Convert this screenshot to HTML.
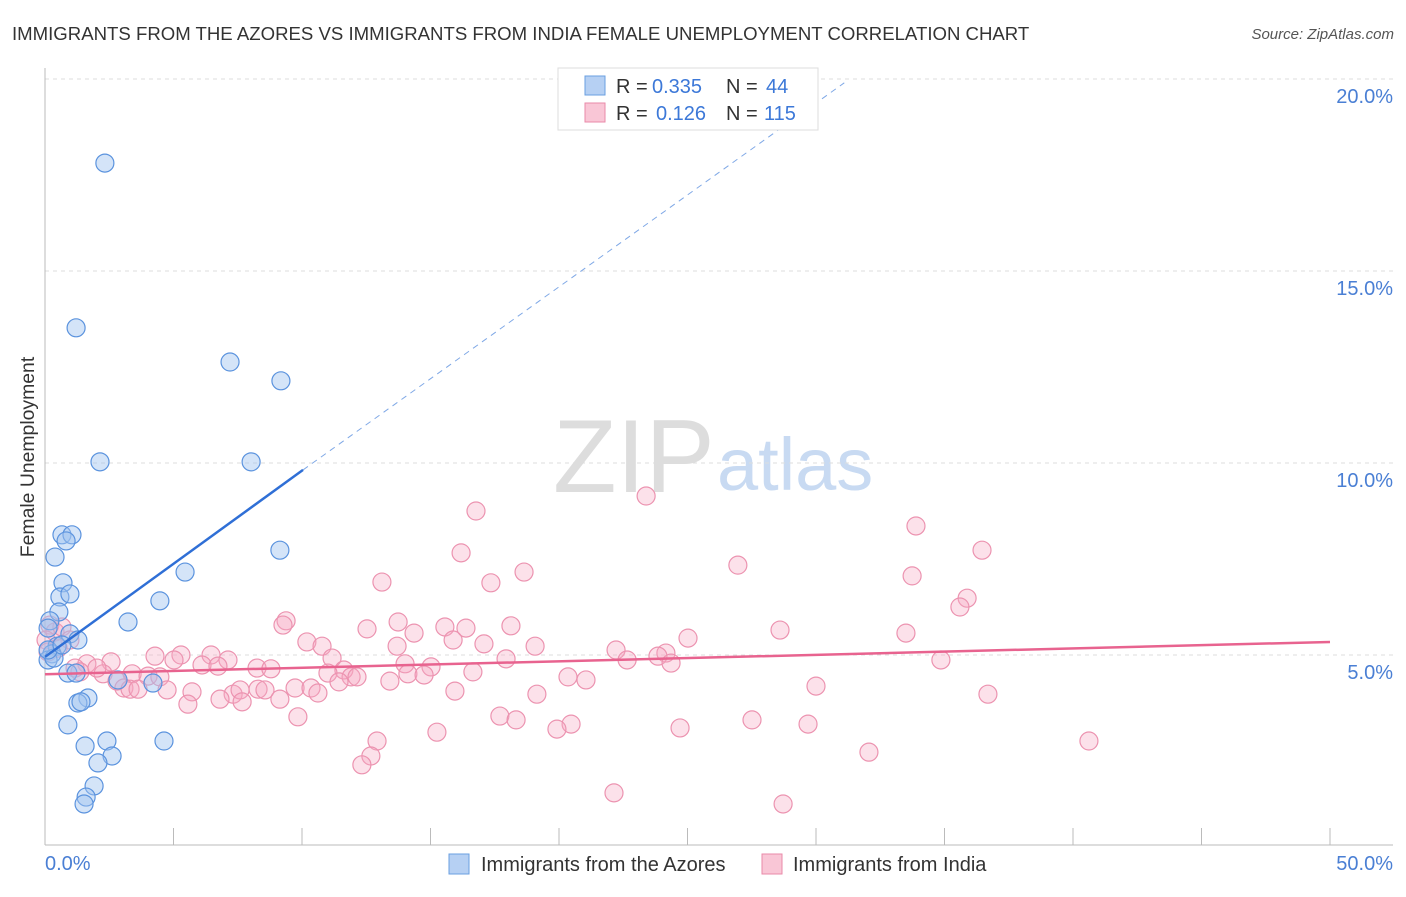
<!DOCTYPE html>
<html><head><meta charset="utf-8"><style>
body{margin:0;background:#fff;font-family:"Liberation Sans",sans-serif}
svg text{font-family:"Liberation Sans",sans-serif}
</style></head><body>
<svg id="chart" width="1406" height="892">
<text x="12" y="40" font-size="18.6" fill="#333">IMMIGRANTS FROM THE AZORES VS IMMIGRANTS FROM INDIA FEMALE UNEMPLOYMENT CORRELATION CHART</text>
<text x="1394" y="39" font-size="15" fill="#555" text-anchor="end" font-style="italic">Source: ZipAtlas.com</text>
<g>
<text x="553" y="492" font-size="104" fill="#ddd" font-family="Liberation Serif,serif">ZIP</text>
<text x="717" y="490" font-size="74" fill="#c8daf2">atlas</text>
</g>
<g id="grid"></g><g id="axes"></g><g id="marks"></g>
<text x="34" y="457" font-size="19.4" fill="#333" text-anchor="middle" transform="rotate(-90 34 457)">Female Unemployment</text>
<g>
<rect x="558" y="68" width="260" height="62" fill="#fff" stroke="#ddd"/>
<rect x="585" y="76" width="20" height="19" fill="#b6d0f3" stroke="#6a9fe0"/>
<text x="616" y="93" font-size="20" fill="#333">R =</text>
<text x="652" y="93" font-size="20" fill="#3c78d8">0.335</text>
<text x="726" y="93" font-size="20" fill="#333">N =</text>
<text x="766" y="93" font-size="20" fill="#3c78d8">44</text>
<rect x="585" y="103" width="20" height="19" fill="#f9c6d6" stroke="#e98aa8"/>
<text x="616" y="120" font-size="20" fill="#333">R =</text>
<text x="656" y="120" font-size="20" fill="#3c78d8">0.126</text>
<text x="726" y="120" font-size="20" fill="#333">N =</text>
<text x="764" y="120" font-size="20" fill="#3c78d8">115</text>
</g>
<g>
<rect x="449" y="854" width="20" height="20" fill="#b6d0f3" stroke="#6a9fe0"/>
<text x="481" y="871" font-size="20" fill="#333">Immigrants from the Azores</text>
<rect x="762" y="854" width="20" height="20" fill="#f9c6d6" stroke="#e98aa8"/>
<text x="793" y="871" font-size="20" fill="#333">Immigrants from India</text>
</g>
</svg>
<script>
const blueX=[2.33,1.21,7.20,9.18,2.14,8.02,0.66,1.05,0.82,9.14,0.39,5.45,0.70,0.58,0.97,4.47,0.54,3.23,0.19,0.12,0.97,1.28,0.47,0.27,0.12,0.35,0.89,1.21,2.84,4.20,1.67,1.28,1.40,0.89,1.56,2.41,4.63,2.61,2.06,1.91,1.60,1.52,0.12,0.66];
const blueY=[17.81,13.52,12.63,12.14,10.03,10.03,8.13,8.13,7.97,7.73,7.55,7.16,6.88,6.51,6.59,6.41,6.12,5.86,5.89,5.70,5.55,5.39,5.23,5.03,4.87,4.92,4.53,4.53,4.35,4.27,3.88,3.75,3.78,3.18,2.63,2.76,2.76,2.37,2.19,1.59,1.30,1.12,5.13,5.26];
const pinkX=[16.77,23.39,33.89,36.46,16.19,26.96,18.64,33.74,13.11,17.35,35.88,35.60,9.38,9.26,13.74,15.56,16.38,18.13,28.60,33.50,12.53,14.36,25.02,10.19,15.88,17.08,19.07,10.78,13.70,22.22,24.16,5.29,4.28,5.02,6.46,7.12,11.17,17.94,22.65,23.85,34.86,24.36,2.57,1.63,6.11,6.73,8.25,8.79,14.01,15.02,16.65,20.35,21.05,2.26,3.39,4.01,4.47,11.63,11.91,12.14,11.01,11.44,13.42,14.12,14.75,2.80,3.07,3.31,3.62,4.75,5.72,7.32,7.59,8.29,8.56,9.14,9.73,10.35,10.62,15.95,19.14,30.00,36.69,5.56,6.81,7.67,9.84,17.70,18.33,20.47,19.92,24.71,27.51,29.69,15.25,12.92,12.68,12.33,32.06,40.62,22.14,28.72,0.19,0.39,0.66,0.97,0.04,0.51,0.12,1.17,1.36,2.02];
const pinkY=[8.75,9.14,8.36,7.73,7.66,7.34,7.16,7.06,6.90,6.88,6.48,6.25,5.89,5.78,5.86,5.73,5.70,5.76,5.65,5.57,5.68,5.57,5.44,5.34,5.39,5.29,5.23,5.23,5.23,5.13,5.05,5.00,4.97,4.87,5.00,4.87,4.92,4.90,4.87,4.97,4.87,4.79,4.82,4.77,4.74,4.71,4.66,4.64,4.77,4.69,4.56,4.43,4.35,4.51,4.51,4.45,4.43,4.61,4.43,4.43,4.53,4.30,4.32,4.51,4.48,4.32,4.14,4.11,4.11,4.09,4.04,3.98,4.09,4.11,4.09,3.85,4.14,4.14,4.01,4.06,3.98,4.19,3.98,3.72,3.85,3.78,3.39,3.41,3.31,3.20,3.07,3.10,3.31,3.20,2.99,2.76,2.37,2.14,2.47,2.76,1.41,1.12,5.78,5.60,5.73,5.39,5.39,5.18,5.08,4.66,4.56,4.66];
const yTicks=[5,10,15,20];
const yTickLabels=["5.0%","10.0%","15.0%","20.0%"];
const blueTrend=[[0,4.95],[10.04,9.82],[31.1,19.9]];
const pinkTrend=[[0,4.5],[50,5.34]];
const NS="http://www.w3.org/2000/svg";
const sx=v=>45+v*25.7, sy=v=>847-v*38.4;
function mk(tag,attrs,parent){const e=document.createElementNS(NS,tag);for(const k in attrs)e.setAttribute(k,attrs[k]);parent.appendChild(e);return e;}
const grid=document.getElementById('grid'),axes=document.getElementById('axes'),marks=document.getElementById('marks');
yTicks.forEach((t,i)=>{
 const l=mk('line',{x1:45,x2:1393,y1:sy(t),y2:sy(t),stroke:'#ddd','stroke-dasharray':'4,4'},grid);
 
 
 const tx=mk('text',{x:1393,y:sy(t)+24,'font-size':20,fill:'#4a7fd4','text-anchor':'end'},axes);
 tx.textContent=yTickLabels[i];
 
 
});
const ya=mk('line',{x1:45,x2:45,y1:68,y2:845,stroke:'#bbb'},axes);


const xa=mk('line',{x1:45,x2:1393,y1:845,y2:845,stroke:'#bbb'},axes);


for(let i=0;i<=10;i++){const t=mk('line',{x1:sx(i*5),x2:sx(i*5),y1:828,y2:845,stroke:'#bbb'},axes);
 
 }
const x0=mk('text',{x:45,y:870,'font-size':20,fill:'#4a7fd4'},axes);x0.textContent='0.0%';


const x1=mk('text',{x:1393,y:870,'font-size':20,fill:'#4a7fd4','text-anchor':'end'},axes);x1.textContent='50.0%';


pinkX.forEach((x,i)=>{const c=mk('circle',{cx:sx(x),cy:sy(pinkY[i]),r:9,fill:'rgba(246,170,196,0.35)',stroke:'#ec93b0','stroke-width':1.2},marks);
 
 });
blueX.forEach((x,i)=>{const c=mk('circle',{cx:sx(x),cy:sy(blueY[i]),r:9,fill:'rgba(160,196,240,0.45)',stroke:'#5b93de','stroke-width':1.2},marks);
 
 });
const pt=mk('line',{x1:sx(pinkTrend[0][0]),y1:sy(pinkTrend[0][1]),x2:sx(pinkTrend[1][0]),y2:sy(pinkTrend[1][1]),stroke:'#e8638f','stroke-width':2.5},marks);


const bt=mk('line',{x1:sx(blueTrend[0][0]),y1:sy(blueTrend[0][1]),x2:sx(blueTrend[1][0]),y2:sy(blueTrend[1][1]),stroke:'#2f6fd6','stroke-width':2.5},marks);


const bd=mk('line',{x1:sx(blueTrend[1][0]),y1:sy(blueTrend[1][1]),x2:sx(blueTrend[2][0]),y2:sy(blueTrend[2][1]),stroke:'#7fa8e6','stroke-width':1,'stroke-dasharray':'6,5'},marks);


</script>
</body></html>
